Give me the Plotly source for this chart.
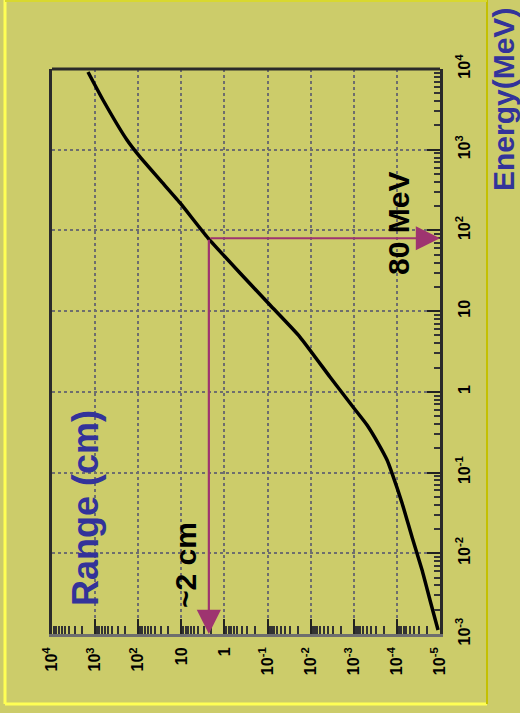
import plotly.graph_objects as go
import math

# Proton range in water vs energy
energy_mev = [9180, 4130, 1318, 813, 422, 219, 80.5, 29.7, 11.9, 4.78, 1.53, 0.649,
              0.388, 0.232, 0.143, 0.0986, 0.042, 0.0159, 0.0062, 0.00264, 0.00112]
range_cm = [1462, 656, 182, 91.0, 31.3, 10.7, 2.40, 0.436, 0.0877, 0.0177, 3.56e-3,
            1.04e-3, 4.93e-4, 2.74e-4, 1.69e-4, 1.30e-4, 7.6e-5, 4.46e-5, 2.61e-5,
            1.71e-5, 1.11e-5]

range_ticks = [1e4, 1e3, 1e2, 1e1, 1, 1e-1, 1e-2, 1e-3, 1e-4, 1e-5]
range_labels = ["10<sup>4</sup>", "10<sup>3</sup>", "10<sup>2</sup>", "10", "1",
                "10<sup>-1</sup>", "10<sup>-2</sup>", "10<sup>-3</sup>", "10<sup>-4</sup>",
                "10<sup>-5</sup>"]
energy_ticks = [1e-3, 1e-2, 1e-1, 1, 1e1, 1e2, 1e3, 1e4]
energy_labels = ["10<sup>-3</sup>", "10<sup>-2</sup>", "10<sup>-1</sup>", "1", "10",
                 "10<sup>2</sup>", "10<sup>3</sup>", "10<sup>4</sup>"]

marker_energy = 80     # MeV
marker_range = 2.3     # cm

BG = "#CCCC6A"
ARROW = "#9E3470"
BLUE = "#33339A"
FONT = "Liberation Sans"

fig = go.Figure()
fig.add_trace(go.Scatter(x=range_cm, y=energy_mev, mode="lines",
                         line=dict(color="black", width=3.5, shape="spline", smoothing=0.5),
                         showlegend=False, hoverinfo="skip"))

grid = dict(showgrid=True, gridcolor="#6E6E6E", gridwidth=1.5, griddash="dot")
fig.update_xaxes(type="log", range=[4, -5], tickmode="array", tickvals=range_ticks,
                 ticktext=range_labels, tickangle=-90, ticks="inside", ticklen=15,
                 tickwidth=2, tickcolor="#222",
                 minor=dict(dtick="D1", ticks="inside", ticklen=8, tickcolor="#333",
                            tickwidth=1.5, showgrid=False),
                 showline=True, linecolor="#6E6E6E", linewidth=3, zeroline=False,
                 tickfont=dict(family=FONT, size=16, color="black", weight="bold"),
                 ticklabelstandoff=4, **grid)
fig.update_yaxes(type="log", range=[-3, 4], side="right", tickmode="array",
                 tickvals=energy_ticks, ticktext=energy_labels, tickangle=-90,
                 ticks="inside", ticklen=13, tickwidth=2, tickcolor="#222",
                 minor=dict(dtick="D1", ticks="inside", ticklen=6, tickcolor="#333",
                            tickwidth=1.5, showgrid=False),
                 showline=True, linecolor="#2A2A2A", linewidth=3, mirror=True,
                 zeroline=False,
                 tickfont=dict(family=FONT, size=16, color="black", weight="bold"),
                 ticklabelstandoff=8, **grid)

lx, ly = math.log10(marker_range), math.log10(marker_energy)
fig.add_annotation(x=-5, y=ly, ax=lx, ay=ly, xref="x", yref="y", axref="x", ayref="y",
                   showarrow=True, arrowhead=2, arrowsize=2.2, arrowwidth=2.2,
                   arrowcolor=ARROW, text="")
fig.add_annotation(x=lx, y=-3, ax=lx, ay=ly, xref="x", yref="y", axref="x", ayref="y",
                   showarrow=True, arrowhead=2, arrowsize=2.2, arrowwidth=2.2,
                   arrowcolor=ARROW, text="")

def px(x):
    return (x - 52) / 388.0

def py(y):
    return (634 - y) / 565.0

fig.add_shape(type="line", xref="paper", yref="paper", x0=0, x1=1, y0=1, y1=1,
              line=dict(color="#2A2A2A", width=3))
# outer slide frame
fig.add_shape(type="line", xref="paper", yref="paper", x0=px(5), x1=px(5), y0=py(0), y1=py(704),
              line=dict(color="#FFFF55", width=3))
fig.add_shape(type="line", xref="paper", yref="paper", x0=px(5), x1=px(487), y0=py(704), y1=py(704),
              line=dict(color="#FFFF55", width=3))
fig.add_shape(type="line", xref="paper", yref="paper", x0=px(487), x1=px(487), y0=py(0), y1=py(704),
              line=dict(color="#C4C000", width=2))
fig.add_shape(type="line", xref="paper", yref="paper", x0=px(5), x1=px(487), y0=py(1), y1=py(1),
              line=dict(color="#D8D830", width=2))

common = dict(xref="paper", yref="paper", textangle=-90, showarrow=False,
              xanchor="center", yanchor="middle")
fig.add_annotation(text="<b>Range (cm)</b>", x=px(85), y=py(508),
                   font=dict(family=FONT, size=36, color=BLUE), **common)
fig.add_annotation(text="<b>Energy(MeV)</b>", x=px(503), y=py(100),
                   font=dict(family=FONT, size=30, color=BLUE), **common)
fig.add_annotation(text="<b>80 MeV</b>", x=px(398), y=py(224),
                   font=dict(family=FONT, size=30, color="black"), **common)
fig.add_annotation(text="<b>~2 cm</b>", x=px(185), y=py(565),
                   font=dict(family=FONT, size=30, color="black"), **common)

fig.update_layout(width=520, height=713, paper_bgcolor=BG, plot_bgcolor=BG,
                  margin=dict(l=52, r=80, t=69, b=79), showlegend=False)

fig.write_html("out.html")
